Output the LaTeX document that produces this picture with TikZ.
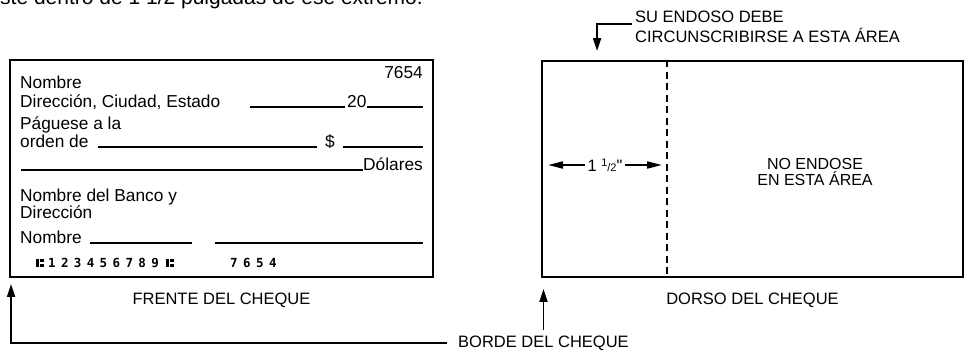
\documentclass[tikz,border=0pt]{standalone}
\usepackage{fontspec}
\setmainfont{Liberation Sans}
\newfontfamily\micrfont{DejaVu Sans Mono}
\usetikzlibrary{arrows.meta,positioning}

\begin{document}
\begin{tikzpicture}[x=1pt, y=-1pt,
  >={Triangle[length=13pt,width=8pt]},
  chequebox/.style={draw, line width=1.9pt, inner sep=0pt},
  formtext/.style={anchor=base west, inner sep=0pt, font=\fontsize{17.3}{20}\selectfont},
  capstext/.style={inner sep=0pt, font=\fontsize{16.5}{20}\selectfont},
  micr/.style={anchor=base west, inner sep=0pt, font=\micrfont\bfseries\fontsize{12.5}{12.5}\selectfont},
  blank/.style={line width=1.5pt},
  pointer/.style={->, line width=1.9pt}]
  \useasboundingbox (0,0) rectangle (968,353);
  % Cut-off line of text above the picture
  \begin{scope}
    \clip (0,0) rectangle (968,353);
    \node[anchor=base east, inner sep=0pt, font=\fontsize{21}{21}\selectfont] (intro) at (423,5)
      {esté dentro de 1 1/2 pulgadas de ese extremo.};
  \end{scope}
  % Check boxes
  \node[chequebox, minimum width=423pt, minimum height=217pt] (frente) at (221.5,168.5) {};
  \node[chequebox, minimum width=421pt, minimum height=216pt] (dorso) at (752.5,169) {};
  \node[capstext, below=15pt of frente] (frente label) {FRENTE DEL CHEQUE};
  \node[capstext, below=15pt of dorso] (dorso label) {DORSO DEL CHEQUE};
  % Front of the check
  \node[formtext] (nombre) at (20,88) {Nombre};
  \node[formtext] (direccion) at (20,107) {Dirección, Ciudad, Estado};
  \node[formtext, anchor=base east] (numero) at (423,78) {7654};
  \draw[blank] (250,107) -- (345,107);
  \node[formtext] (anio) at (347,107) {20};
  \draw[blank] (367,107) -- (423,107);
  \node[formtext] (paguese) at (20,129.5) {Páguese a la};
  \node[formtext] (orden) at (20,147) {orden de};
  \draw[blank] (98,147) -- (317,147);
  \node[formtext] (dolar) at (325,147) {\$};
  \draw[blank] (343,147) -- (423,147);
  \draw[blank] (21,170) -- (363,170);
  \node[formtext, anchor=base east] (dolares) at (423,170) {Dólares};
  \node[formtext] (banco) at (20,201) {Nombre del Banco y};
  \node[formtext] (banco dir) at (20,218) {Dirección};
  \node[formtext] (firma) at (20,243) {Nombre};
  \draw[blank] (90,243) -- (192,243);
  \draw[blank] (215,243) -- (423,243);
  % MICR line (transit symbols drawn as blocks)
  \foreach \t in {36,166} {
    \fill (\t,258.5) rectangle ++(2.6,8.5);
    \fill (\t+4.4,258.5) rectangle ++(3.2,3.2);
    \fill (\t+4.4,263.8) rectangle ++(3.2,3.2);
  }
  \foreach \d in {1,...,9} {
    \node[micr] (micr \d) at (35+12.9*\d,267) {\d};
  }
  \foreach \d [count=\i from 0] in {7,6,5,4} {
    \node[micr] (cuenta \i) at (230+13*\i,267) {\d};
  }
  % Back of the check
  \coordinate (margen top) at ([xshift=126pt]dorso.north west);
  \coordinate (margen bot) at ([xshift=126pt]dorso.south west);
  \draw[line width=1.7pt, dash pattern=on 7pt off 4.5pt] (margen top) -- (margen bot);
  \node[capstext, font=\fontsize{16}{16}\selectfont, align=center] (no endose) at (815,172)
    {NO ENDOSE\\EN ESTA ÁREA};
  \node[inner sep=2pt, font=\fontsize{16.5}{20}\selectfont] (ancho) at (605,165)
    {1 {\fontsize{11}{11}\selectfont\raisebox{5pt}{1}/2}\textquotedbl};
  \coordinate (dim left) at (548,165);
  \coordinate (dim right) at (662,165);
  \draw[pointer, >={Triangle[length=15pt,width=7pt]}] (ancho.west) -- (dim left);
  \draw[pointer, >={Triangle[length=15pt,width=7pt]}] (ancho.east) -- (dim right);
  % Endorsement note
  \node[capstext, anchor=north west, align=left] (endoso) at (635,11)
    {SU ENDOSO DEBE\\CIRCUNSCRIBIRSE A ESTA ÁREA};
  \coordinate (endoso bar) at ([shift={(-3,13)}]endoso.north west);
  \coordinate (endoso tip) at ([shift={(56,-9)}]dorso.north west);
  \draw[pointer] (endoso bar) -| (endoso tip);
  % Edge of the check
  \node[capstext, anchor=west] (borde) at (458,343) {BORDE DEL CHEQUE};
  \coordinate (borde left tip) at ([shift={(2,6)}]frente.south west);
  \coordinate (borde right tip) at ([shift={(0,11)}]dorso.south west);
  \draw[pointer] ([xshift=-11pt]borde.west) -| (borde left tip);
  \draw[pointer] ([yshift=5pt]borde.north) -- (borde.north |- borde right tip);
\end{tikzpicture}
\end{document}
